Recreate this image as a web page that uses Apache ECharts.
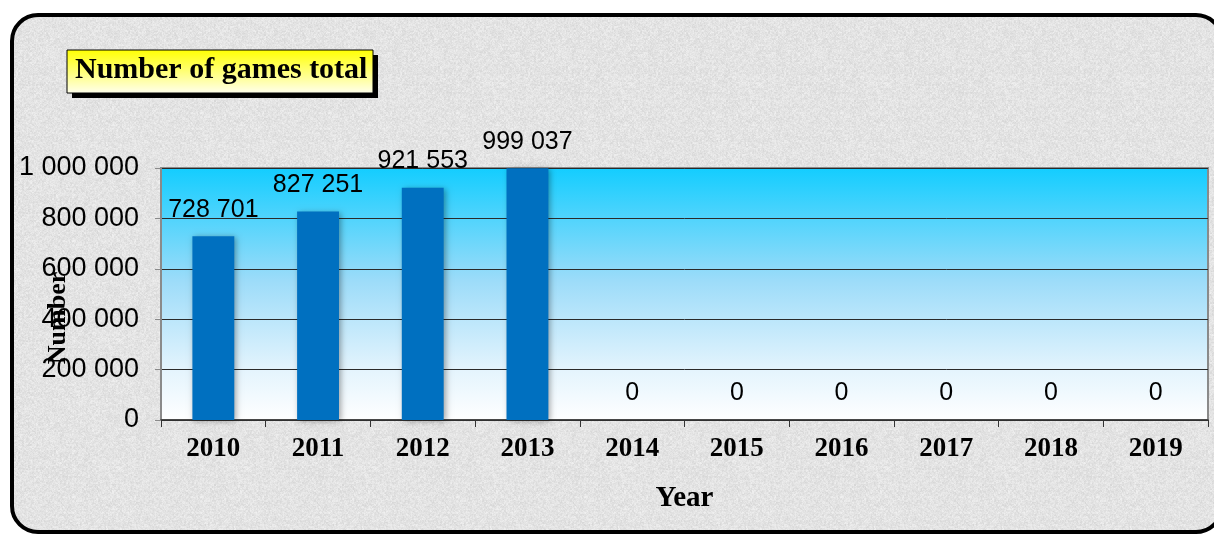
<!DOCTYPE html>
<html>
<head>
<meta charset="utf-8">
<script src="https://cdn.jsdelivr.net/npm/echarts@6/dist/echarts.min.js"></script>
<style>
html,body{margin:0;padding:0;background:#ffffff;}
#chart{width:1214px;height:534px;}
</style>
</head>
<body>
<div id="chart"></div>
<script>
const categories = ['2010','2011','2012','2013','2014','2015','2016','2017','2018','2019'];
const gamesTotal = [728701, 827251, 921553, 999037, 0, 0, 0, 0, 0, 0];
const yTicks = [0, 200000, 400000, 600000, 800000, 1000000];
const titleText = 'Number of games total';
const xName = 'Year';
const yName = 'Number';

function spaced(v){
  return String(Math.round(v)).replace(/\B(?=(\d{3})+(?!\d))/g, ' ');
}

// decorative granite-like texture (deterministic hash, not data)
function makeTexture(){
  const c = document.createElement('canvas');
  c.width = 128; c.height = 128;
  const ctx = c.getContext('2d');
  const img = ctx.createImageData(128,128);
  for (let y=0;y<128;y++){
    for (let x=0;x<128;x++){
      const h = Math.sin(x*12.9898 + y*78.233) * 43758.5453;
      const f = h - Math.floor(h);
      const h2 = Math.sin((x>>1)*39.346 + (y>>1)*11.135) * 24634.6345;
      const f2 = h2 - Math.floor(h2);
      const v = Math.round(240 - f*14 - f2*12);
      const i = (y*128+x)*4;
      img.data[i]=v; img.data[i+1]=v; img.data[i+2]=v; img.data[i+3]=255;
    }
  }
  ctx.putImageData(img,0,0);
  return c;
}

const chart = echarts.init(document.getElementById('chart'), null, {renderer:'canvas'});
const serif = '"Liberation Serif", "DejaVu Serif", serif';
const sans = '"Liberation Sans", Arial, sans-serif';

chart.setOption({
  animation:false,
  backgroundColor:'#ffffff',
  graphic:[
    {
      type:'rect', z:-10, silent:true,
      shape:{x:12, y:15, width:1210, height:517, r:26},
      style:{fill:{image:makeTexture(), repeat:'repeat'}, stroke:'#000000', lineWidth:4}
    },
    {
      type:'rect', z:1, silent:true,
      shape:{x:72, y:55, width:306, height:43},
      style:{fill:'#000000'}
    },
    {
      type:'rect', z:2, silent:true,
      shape:{x:67, y:50, width:306, height:43},
      style:{
        fill:new echarts.graphic.LinearGradient(0,0,0,1,[
          {offset:0,color:'#ffff00'},{offset:1,color:'#ffffee'}
        ]),
        stroke:'#000000', lineWidth:1
      }
    },
    {
      type:'text', z:20, silent:true,
      x:58, y:318, rotation:Math.PI/2,
      style:{text:yName, align:'center', verticalAlign:'middle',
        font:'bold 26px "Liberation Serif", "DejaVu Serif", serif', fill:'#000000'}
    }
  ],
  title:{
    text:titleText,
    left:75, top:55,
    padding:0,
    z:10,
    textStyle:{fontFamily:serif, fontWeight:'bold', fontSize:30, color:'#000000'}
  },
  grid:{
    left:161, right:6, top:168, bottom:114,
    outerBoundsMode:'none',
    containLabel:false,
    show:true,
    borderColor:'#8a8a8a', borderWidth:2,
    backgroundColor:new echarts.graphic.LinearGradient(0,0,0,1,[
      {offset:0,color:'#12cdff'},
      {offset:0.45,color:'#9ddcf9'},
      {offset:0.8,color:'#e4f4fd'},
      {offset:1,color:'#ffffff'}
    ])
  },
  xAxis:{
    type:'category',
    data:categories,
    name:xName, nameLocation:'middle', nameGap:64,
    nameTextStyle:{fontFamily:serif, fontWeight:'bold', fontSize:29, color:'#000000'},
    axisLine:{lineStyle:{color:'#333333', width:1.5}},
    axisTick:{show:true, length:7, lineStyle:{color:'#333333'}},
    axisLabel:{fontFamily:serif, fontWeight:'bold', fontSize:27, color:'#000000', margin:16}
  },
  yAxis:{
    type:'value',
    min:yTicks[0], max:yTicks[yTicks.length-1], interval:yTicks[1]-yTicks[0],
    axisLine:{show:true, lineStyle:{color:'#8a8a8a', width:2}},
    axisTick:{show:true, length:6, lineStyle:{color:'#8a8a8a'}},
    axisLabel:{fontFamily:sans, fontSize:27, color:'#000000', margin:22, formatter:spaced},
    splitLine:{show:true, lineStyle:{color:'#2a2a2a', width:1}}
  },
  series:[{
    type:'bar',
    data:gamesTotal,
    barWidth:'40%',
    itemStyle:{color:'#0070c0', shadowColor:'rgba(0,0,0,0.35)', shadowBlur:6, shadowOffsetX:2, shadowOffsetY:1},
    label:{show:true, position:'top', distance:14, fontFamily:sans, fontSize:25, color:'#000000',
      formatter:p=>spaced(p.value)}
  }]
});
</script>
</body>
</html>
